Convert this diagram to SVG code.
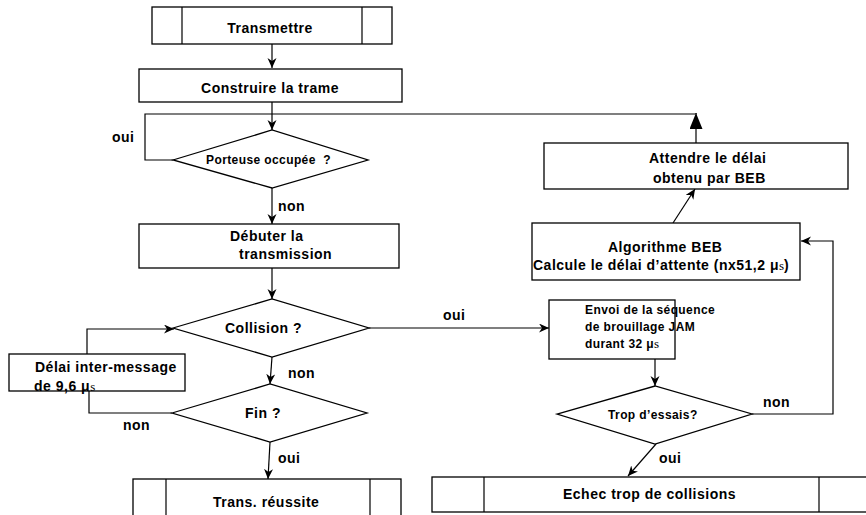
<svg xmlns="http://www.w3.org/2000/svg" width="866" height="515" viewBox="0 0 866 515">
  <style>
    .box { fill: #fff; stroke: #000; stroke-width: 1.3; }
    .ln { fill: none; stroke: #000; stroke-width: 1.2; }
    .t { font-family: "Liberation Sans", Arial, sans-serif; font-weight: bold; font-size: 14px; letter-spacing: 0.5px; fill: #000; }
    .s { font-size: 12px; letter-spacing: 0.4px; }
    .u { font-family: "Liberation Serif", "Times New Roman", serif; font-weight: normal; font-size: 13px; letter-spacing: 0; }
  </style>
  <defs>
    <marker id="arr" markerUnits="userSpaceOnUse" markerWidth="12" markerHeight="10" refX="10" refY="4.5" orient="auto">
      <path d="M0,0 L10,4.5 L0,9 L3,4.5 z" fill="#000"/>
    </marker>
    <marker id="big" markerUnits="userSpaceOnUse" markerWidth="14" markerHeight="18" refX="16" refY="6.5" orient="auto">
      <path d="M0,0 L16,6.5 L0,13 z" fill="#000"/>
    </marker>
  </defs>

  <!-- connectors -->
  <g id="connectors">
    <path class="ln" d="M272,44 V68" marker-end="url(#arr)"/>
    <path class="ln" d="M272,102 V130" marker-end="url(#arr)"/>
    <path class="ln" d="M173,160 H145 V114 H697"/>
    <path class="ln" d="M696,143 V113" marker-end="url(#big)"/>
    <path class="ln" d="M272,188 V224" marker-end="url(#arr)"/>
    <path class="ln" d="M272,268 V299" marker-end="url(#arr)"/>
    <path class="ln" d="M272,357 L270,384" marker-end="url(#arr)"/>
    <path class="ln" d="M270,442 L268,479" marker-end="url(#arr)"/>
    <path class="ln" d="M87,354 V329 H174" marker-end="url(#arr)"/>
    <path class="ln" d="M172,413 H89 V391"/>
    <path class="ln" d="M369,328 H549" marker-end="url(#arr)"/>
    <path class="ln" d="M655,359 V386" marker-end="url(#arr)"/>
    <path class="ln" d="M752,414 H833 V241 H801" marker-end="url(#arr)"/>
    <path class="ln" d="M656,444 L628,476" marker-end="url(#arr)"/>
    <path class="ln" d="M673,223 L695,189" marker-end="url(#arr)"/>
  </g>

  <!-- branch labels -->
  <g id="labels">
    <text class="t" x="112" y="142">oui</text>
    <text class="t" x="278" y="211">non</text>
    <text class="t" x="288" y="378">non</text>
    <text class="t" x="123" y="430">non</text>
    <text class="t" x="278" y="463">oui</text>
    <text class="t" x="443" y="320">oui</text>
    <text class="t" x="763" y="407">non</text>
    <text class="t" x="659" y="463">oui</text>
  </g>

  <g id="transmettre">
    <rect class="box" x="152" y="7" width="240" height="37"/>
    <path class="ln" d="M182,7 V44 M362,7 V44"/>
    <text class="t" x="270" y="33" text-anchor="middle">Transmettre</text>
  </g>

  <g id="construire">
    <rect class="box" x="139" y="69" width="263" height="33"/>
    <text class="t" x="270" y="93" text-anchor="middle">Construire la trame</text>
  </g>

  <g id="porteuse">
    <polygon class="box" points="173,160 272,130 368,160 272,188"/>
    <text class="t s" x="206" y="164" xml:space="preserve">Porteuse occupée  ?</text>
  </g>

  <g id="debuter">
    <rect class="box" x="139" y="224" width="260" height="44"/>
    <text class="t" x="230" y="241">Débuter la</text>
    <text class="t" x="239" y="259">transmission</text>
  </g>

  <g id="collision">
    <polygon class="box" points="173,328 272,299 369,328 272,357"/>
    <text class="t" x="225" y="333">Collision ?</text>
  </g>

  <g id="fin">
    <polygon class="box" points="172,413 270,384 367,413 270,442"/>
    <text class="t" x="245" y="418">Fin ?</text>
  </g>

  <g id="delai">
    <rect class="box" x="9" y="354" width="176" height="37"/>
    <text class="t" x="35" y="372">Délai inter-message</text>
    <text class="t" x="34" y="391">de 9,6 μ<tspan class="u">s</tspan></text>
  </g>

  <g id="reussite">
    <rect class="box" x="133" y="479" width="268" height="40"/>
    <path class="ln" d="M166,479 V516 M370,479 V516"/>
    <text class="t" x="213" y="507">Trans. réussite</text>
  </g>

  <g id="envoi">
    <rect class="box" x="549" y="300" width="126" height="59"/>
    <text class="t s" x="585" y="314">Envoi de la séquence</text>
    <text class="t s" x="585" y="331">de brouillage JAM</text>
    <text class="t s" x="585" y="348">durant 32 μ<tspan class="u">s</tspan></text>
  </g>

  <g id="essais">
    <polygon class="box" points="557,414 655,386 752,414 655,444"/>
    <text class="t s" x="608" y="419">Trop d’essais?</text>
  </g>

  <g id="echec">
    <rect class="box" x="432" y="477" width="440" height="35"/>
    <path class="ln" d="M484,477 V512 M819,477 V512"/>
    <text class="t" x="563" y="499">Echec trop de collisions</text>
  </g>

  <g id="algorithme">
    <rect class="box" x="532" y="223" width="268" height="57"/>
    <text class="t" x="608" y="252">Algorithme BEB</text>
    <text class="t" x="533" y="270">Calcule le délai d’attente (nx51,2 μ<tspan class="u">s</tspan>)</text>
  </g>

  <g id="attendre">
    <rect class="box" x="544" y="143" width="304" height="46"/>
    <text class="t" x="649" y="163">Attendre le délai</text>
    <text class="t" x="653" y="183">obtenu par BEB</text>
  </g>
</svg>
